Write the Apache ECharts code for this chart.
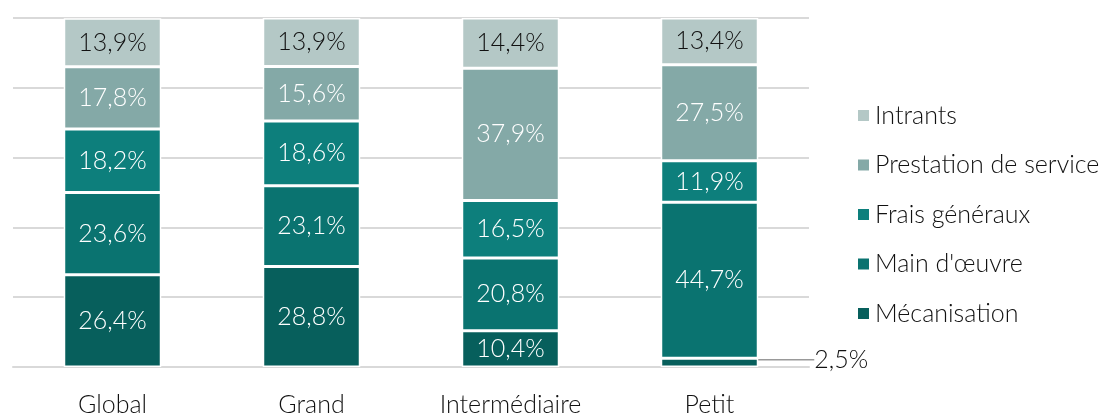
<!DOCTYPE html>
<html>
<head>
<meta charset="utf-8">
<script src="https://cdn.jsdelivr.net/npm/echarts@6/dist/echarts.min.js"></script>
<style>
  html, body { margin: 0; padding: 0; background: #fff; }
  #chart { width: 1110px; height: 415px; }
</style>
</head>
<body>
<div id="chart"></div>
<script>
// catégories et valeurs (%)
const categories = ['Global', 'Grand', 'Intermédiaire', 'Petit'];
const seriesNames = ['Mécanisation', "Main d'œuvre", 'Frais généraux', 'Prestation de service', 'Intrants'];
const mecanisation = [26.4, 28.8, 10.4, 2.5];
const mainOeuvre = [23.6, 23.1, 20.8, 44.7];
const fraisGeneraux = [18.2, 18.6, 16.5, 11.9];
const prestation = [17.8, 15.6, 37.9, 27.5];
const intrants = [13.9, 13.9, 14.4, 13.4];

const colors = ['#075f5c', '#0a7370', '#0d7f7c', '#84a9a7', '#b4c8c6'];
const txtColors = ['#fff', '#fff', '#fff', '#fff', '#111'];
const valeurs = [mecanisation, mainOeuvre, fraisGeneraux, prestation, intrants];

const fmt = v => v.toFixed(1).replace('.', ',') + '%';
const font = 'Lato, "Open Sans", sans-serif';
const fs = 25;

const chart = echarts.init(document.getElementById('chart'), null, { renderer: 'canvas' });

const series = seriesNames.map((name, i) => ({
  name: name,
  type: 'bar',
  stack: 'total',
  barWidth: '49%',
  itemStyle: { color: colors[i], borderColor: '#fff', borderWidth: 1.5 },
  label: {
    show: true,
    position: 'inside',
    color: txtColors[i],
    fontFamily: font,
    fontWeight: 300,
    fontSize: fs,
    formatter: p => fmt(p.value)
  },
  labelLine: { show: i === 0, lineStyle: { color: '#999', width: 1.5 }, length2: 0 },
  // petite valeur : étiquette déplacée à droite avec trait de rappel
  labelLayout: i === 0 ? (p => valeurs[0][p.dataIndex] < 5 ? { dx: 52, dy: -3 } : {}) : null,
  data: valeurs[i].map(v => {
    if (i === 0 && v < 5) {
      return { value: v, label: { position: 'right', distance: 4, color: '#111' } };
    }
    return v;
  }),
  animation: false
}));

chart.setOption({
  backgroundColor: '#fff',
  grid: { left: 13, right: 301, top: 18, bottom: 48, outerBoundsMode: 'none', containLabel: false },
  legend: {
    orient: 'vertical',
    left: 851,
    top: 98,
    itemWidth: 13,
    itemHeight: 13,
    itemGap: 24.5,
    icon: 'rect',
    data: seriesNames.slice().reverse(),
    textStyle: { fontFamily: font, fontWeight: 300, fontSize: fs, color: '#111', padding: [0, 0, 0, 0] }
  },
  xAxis: {
    type: 'category',
    data: categories,
    axisLine: { lineStyle: { color: '#d9d9d9', width: 2 } },
    axisTick: { show: false },
    axisLabel: { margin: 25, fontFamily: font, fontWeight: 300, fontSize: fs, color: '#111' }
  },
  yAxis: {
    type: 'value',
    min: 0,
    max: 100,
    interval: 20,
    axisLabel: { show: false },
    axisLine: { show: false },
    axisTick: { show: false },
    splitLine: { lineStyle: { color: '#d9d9d9', width: 2 } }
  },
  series: series
});
</script>
</body>
</html>
